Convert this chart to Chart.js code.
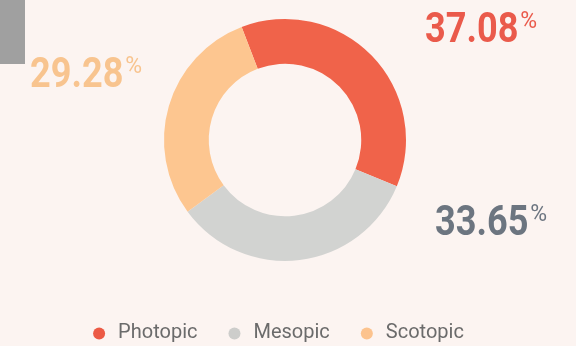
<!DOCTYPE html>
<html>
<head>
<meta charset="utf-8">
<script src="https://cdn.jsdelivr.net/npm/chart.js@4/dist/chart.umd.min.js"></script>
<style>
  html, body { margin: 0; padding: 0; background: #fcf4f1; }
  #wrap { position: relative; width: 576px; height: 346px; }
  #tab { position: absolute; left: 0; top: 0; width: 25px; height: 64px; background: #a0a0a0; }
</style>
</head>
<body>
<div id="wrap">
  <canvas id="visionChart" width="576" height="346"></canvas>
  <div id="tab"></div>
</div>
<script>
// Datos
const categories = ['Photopic', 'Mesopic', 'Scotopic'];
const shares = [37.08, 33.65, 29.28];

// Estilos
const sliceColors = ['#f0634a', '#d2d3d1', '#fdc690'];
const legendDotColors = ['#ec5a45', '#cdcdcb', '#fcc38e'];
const labelColors = ['#ea5a4b', '#6c7580', '#f8c48f'];
// desplazamiento de cada etiqueta respecto al centro del anillo (x izquierda, línea base)
const labelOffsets = [[140, -98], [150, 95], [-255, -53]];

// Plugin: etiquetas grandes de porcentaje con el "%" en superíndice
const bigLabels = {
  id: 'bigLabels',
  afterDatasetsDraw(chart) {
    const ctx = chart.ctx;
    const arc = chart.getDatasetMeta(0).data[0];
    const cx = arc.x, cy = arc.y;
    const sx = 0.84; // letra condensada
    shares.forEach((v, i) => {
      const x = cx + labelOffsets[i][0];
      const y = cy + labelOffsets[i][1];
      const num = v.toFixed(2);
      ctx.save();
      ctx.fillStyle = labelColors[i];
      ctx.textBaseline = 'alphabetic';
      ctx.textAlign = 'left';
      ctx.font = 'bold 43px Roboto';
      const w = ctx.measureText(num).width * sx;
      ctx.translate(x, y);
      ctx.scale(sx, 1);
      ctx.fillText(num, 0, 0);
      ctx.restore();
      ctx.save();
      ctx.fillStyle = labelColors[i];
      ctx.textBaseline = 'alphabetic';
      ctx.font = '23px Roboto';
      ctx.fillText('%', x + w + 2, y - 14);
      ctx.restore();
    });
  }
};

// Plugin: corre la leyenda un poco a la izquierda del centro del anillo
const legendNudge = {
  id: 'legendNudge',
  afterLayout(chart) {
    const lg = chart.legend;
    if (!lg) return;
    lg.left -= 8;
    lg.right -= 8;
  }
};

const ctx = document.getElementById('visionChart').getContext('2d');
new Chart(ctx, {
  type: 'doughnut',
  data: {
    labels: categories,
    datasets: [{
      data: shares,
      backgroundColor: sliceColors,
      borderWidth: 0
    }]
  },
  options: {
    responsive: false,
    animation: false,
    rotation: -21,
    cutout: '63%',
    layout: { padding: { top: 19, left: 0, right: 6, bottom: 0 } },
    plugins: {
      tooltip: { enabled: false },
      legend: {
        position: 'bottom',
        maxHeight: 85,
        title: { display: true, text: '', padding: { top: 20, bottom: 0 } },
        labels: {
          usePointStyle: true,
          pointStyle: 'circle',
          boxWidth: 18,
          boxHeight: 8.5,
          padding: 28,
          color: '#6b6b6b',
          font: { family: 'Roboto', size: 20 },
          generateLabels(chart) {
            return categories.map((c, i) => ({
              text: c,
              fillStyle: legendDotColors[i],
              strokeStyle: legendDotColors[i],
              lineWidth: 0,
              pointStyle: 'circle',
              fontColor: '#6b6b6b',
              index: i
            }));
          }
        }
      }
    }
  },
  plugins: [bigLabels, legendNudge]
});
</script>
</body>
</html>
